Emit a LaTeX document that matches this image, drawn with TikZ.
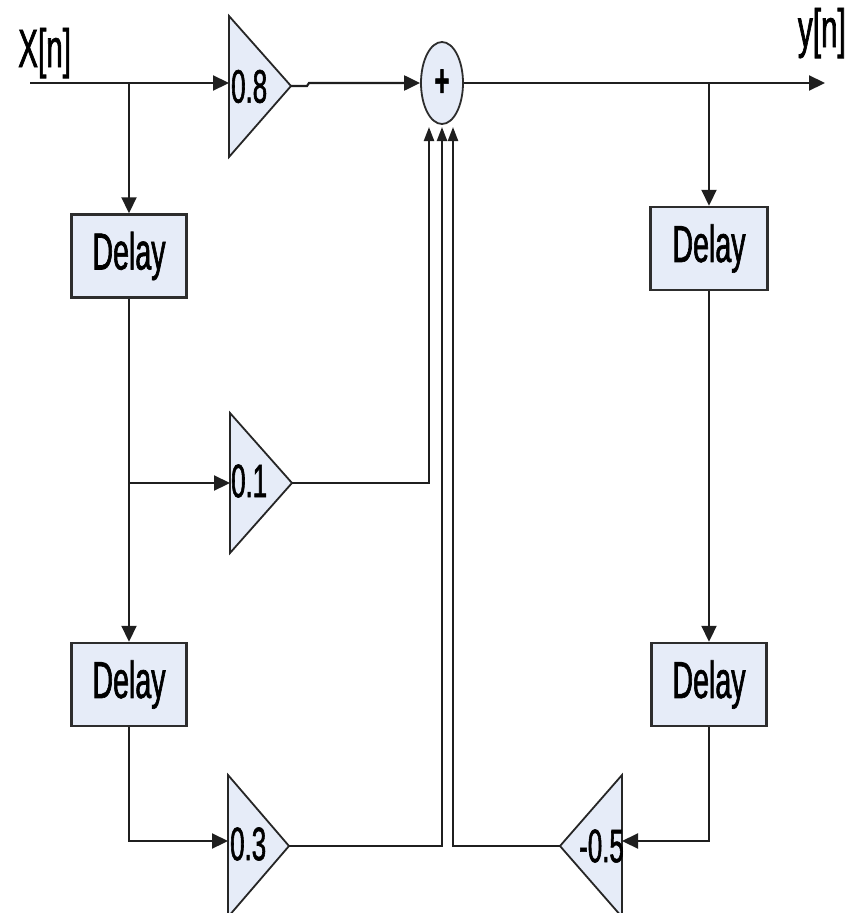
\documentclass[tikz,border=0pt]{standalone}
\usepackage{fontspec}
\setmainfont[FakeStretch=0.55, FakeBold=1.2]{Liberation Sans}
\usetikzlibrary{arrows.meta,shapes.geometric}
\definecolor{blkfill}{RGB}{230,236,248}
\definecolor{edgecol}{RGB}{45,45,45}
\begin{document}
\begin{tikzpicture}[x=1pt,y=-1pt,
  delaybox/.style={draw=edgecol, line width=2.5pt, fill=blkfill, minimum width=115pt, minimum height=83pt, inner sep=0pt, font=\fontsize{52}{52}\selectfont},
  wire/.style={draw=black!88, line width=2.2pt},
  arr/.style={wire, -{Triangle[length=16pt,width=15pt]}},
  sarr/.style={wire, -{Triangle[length=14pt,width=10pt]}},
  gaintri/.style={draw=black!85, line width=1.8pt, fill=blkfill, line join=miter},
  gainlbl/.style={inner sep=0pt, font=\fontsize{47}{47}\selectfont},
  lbl/.style={inner sep=0pt, font=\fontsize{54}{54}\selectfont}]
\useasboundingbox (0,0) rectangle (855,913);

% gain triangles
\draw[gaintri] (229,16) -- (291,86) -- (229,157) -- cycle;
\draw[gaintri] (230,413) -- (292,483) -- (230,553) -- cycle;
\draw[gaintri] (228,775) -- (289,846) -- (228,917) -- cycle;
\draw[gaintri] (622,775) -- (560,846) -- (622,917) -- cycle;

\coordinate (g8in) at (229,83);
\coordinate (g8out) at (291,86);
\coordinate (g1in) at (230,483);
\coordinate (g1out) at (292,483);
\coordinate (g3in) at (228,841);
\coordinate (g3out) at (289,846);
\coordinate (g5in) at (622,841);
\coordinate (g5out) at (560,846);

\node[gainlbl, anchor=west] (l8) at (231,86.5) {0.8};
\node[gainlbl, anchor=west] (l1) at (231,481) {0.1};
\node[gainlbl, anchor=west] (l3) at (230,844) {0.3};
\node[gainlbl, anchor=east] (l5) at (624,846) {-0.5};

% delay boxes
\node[delaybox] (d1) at (129,256) {Delay};
\node[delaybox] (d2) at (129,684.5) {Delay};
\node[delaybox, minimum width=117pt] (d3) at (709,248.5) {Delay};
\node[delaybox] (d4) at (709,684.5) {Delay};

% adder
\node[draw=edgecol, line width=1.8pt, fill=blkfill, ellipse, minimum width=42pt, minimum height=82pt, inner sep=0pt] (sum) at (442,83) {\fontsize{46}{46}\selectfont\bfseries +};

% labels
\node[lbl, anchor=base west] (xl) at (18,67) {X[n]};
\node[lbl, anchor=base east] (yl) at (846,47) {y[n]};

% input side
\coordinate (xin) at (30,83);
\coordinate (b1) at (d1.north |- xin);
\draw[arr] (xin) -- (g8in);
\draw[arr] (b1) -- (d1.north);
\draw[arr] (d1.south) -- (d2.north);
\coordinate (b2) at (d1.south |- g1in);
\draw[arr] (b2) -- (g1in);
\draw[arr] (d2.south) |- (g3in);

% into adder
\draw[arr] (g8out) -- ++(16,0) -- ++(2,-3) -- (sum.west);
\coordinate (s1) at (429,127);
\coordinate (s2) at (442,127);
\coordinate (s3) at (453,127);
\draw[sarr] (g1out) -| (s1);
\draw[sarr] (g3out) -| (s2);
\draw[sarr] (g5out) -| (s3);

% output side
\coordinate (yout) at (825,83);
\draw[arr] (sum.east) -- (yout);
\coordinate (b3) at (d3.north |- yout);
\draw[arr] (b3) -- (d3.north);
\draw[arr] (d3.south) -- (d4.north);
\draw[arr] (d4.south) |- (g5in);
\end{tikzpicture}
\end{document}
